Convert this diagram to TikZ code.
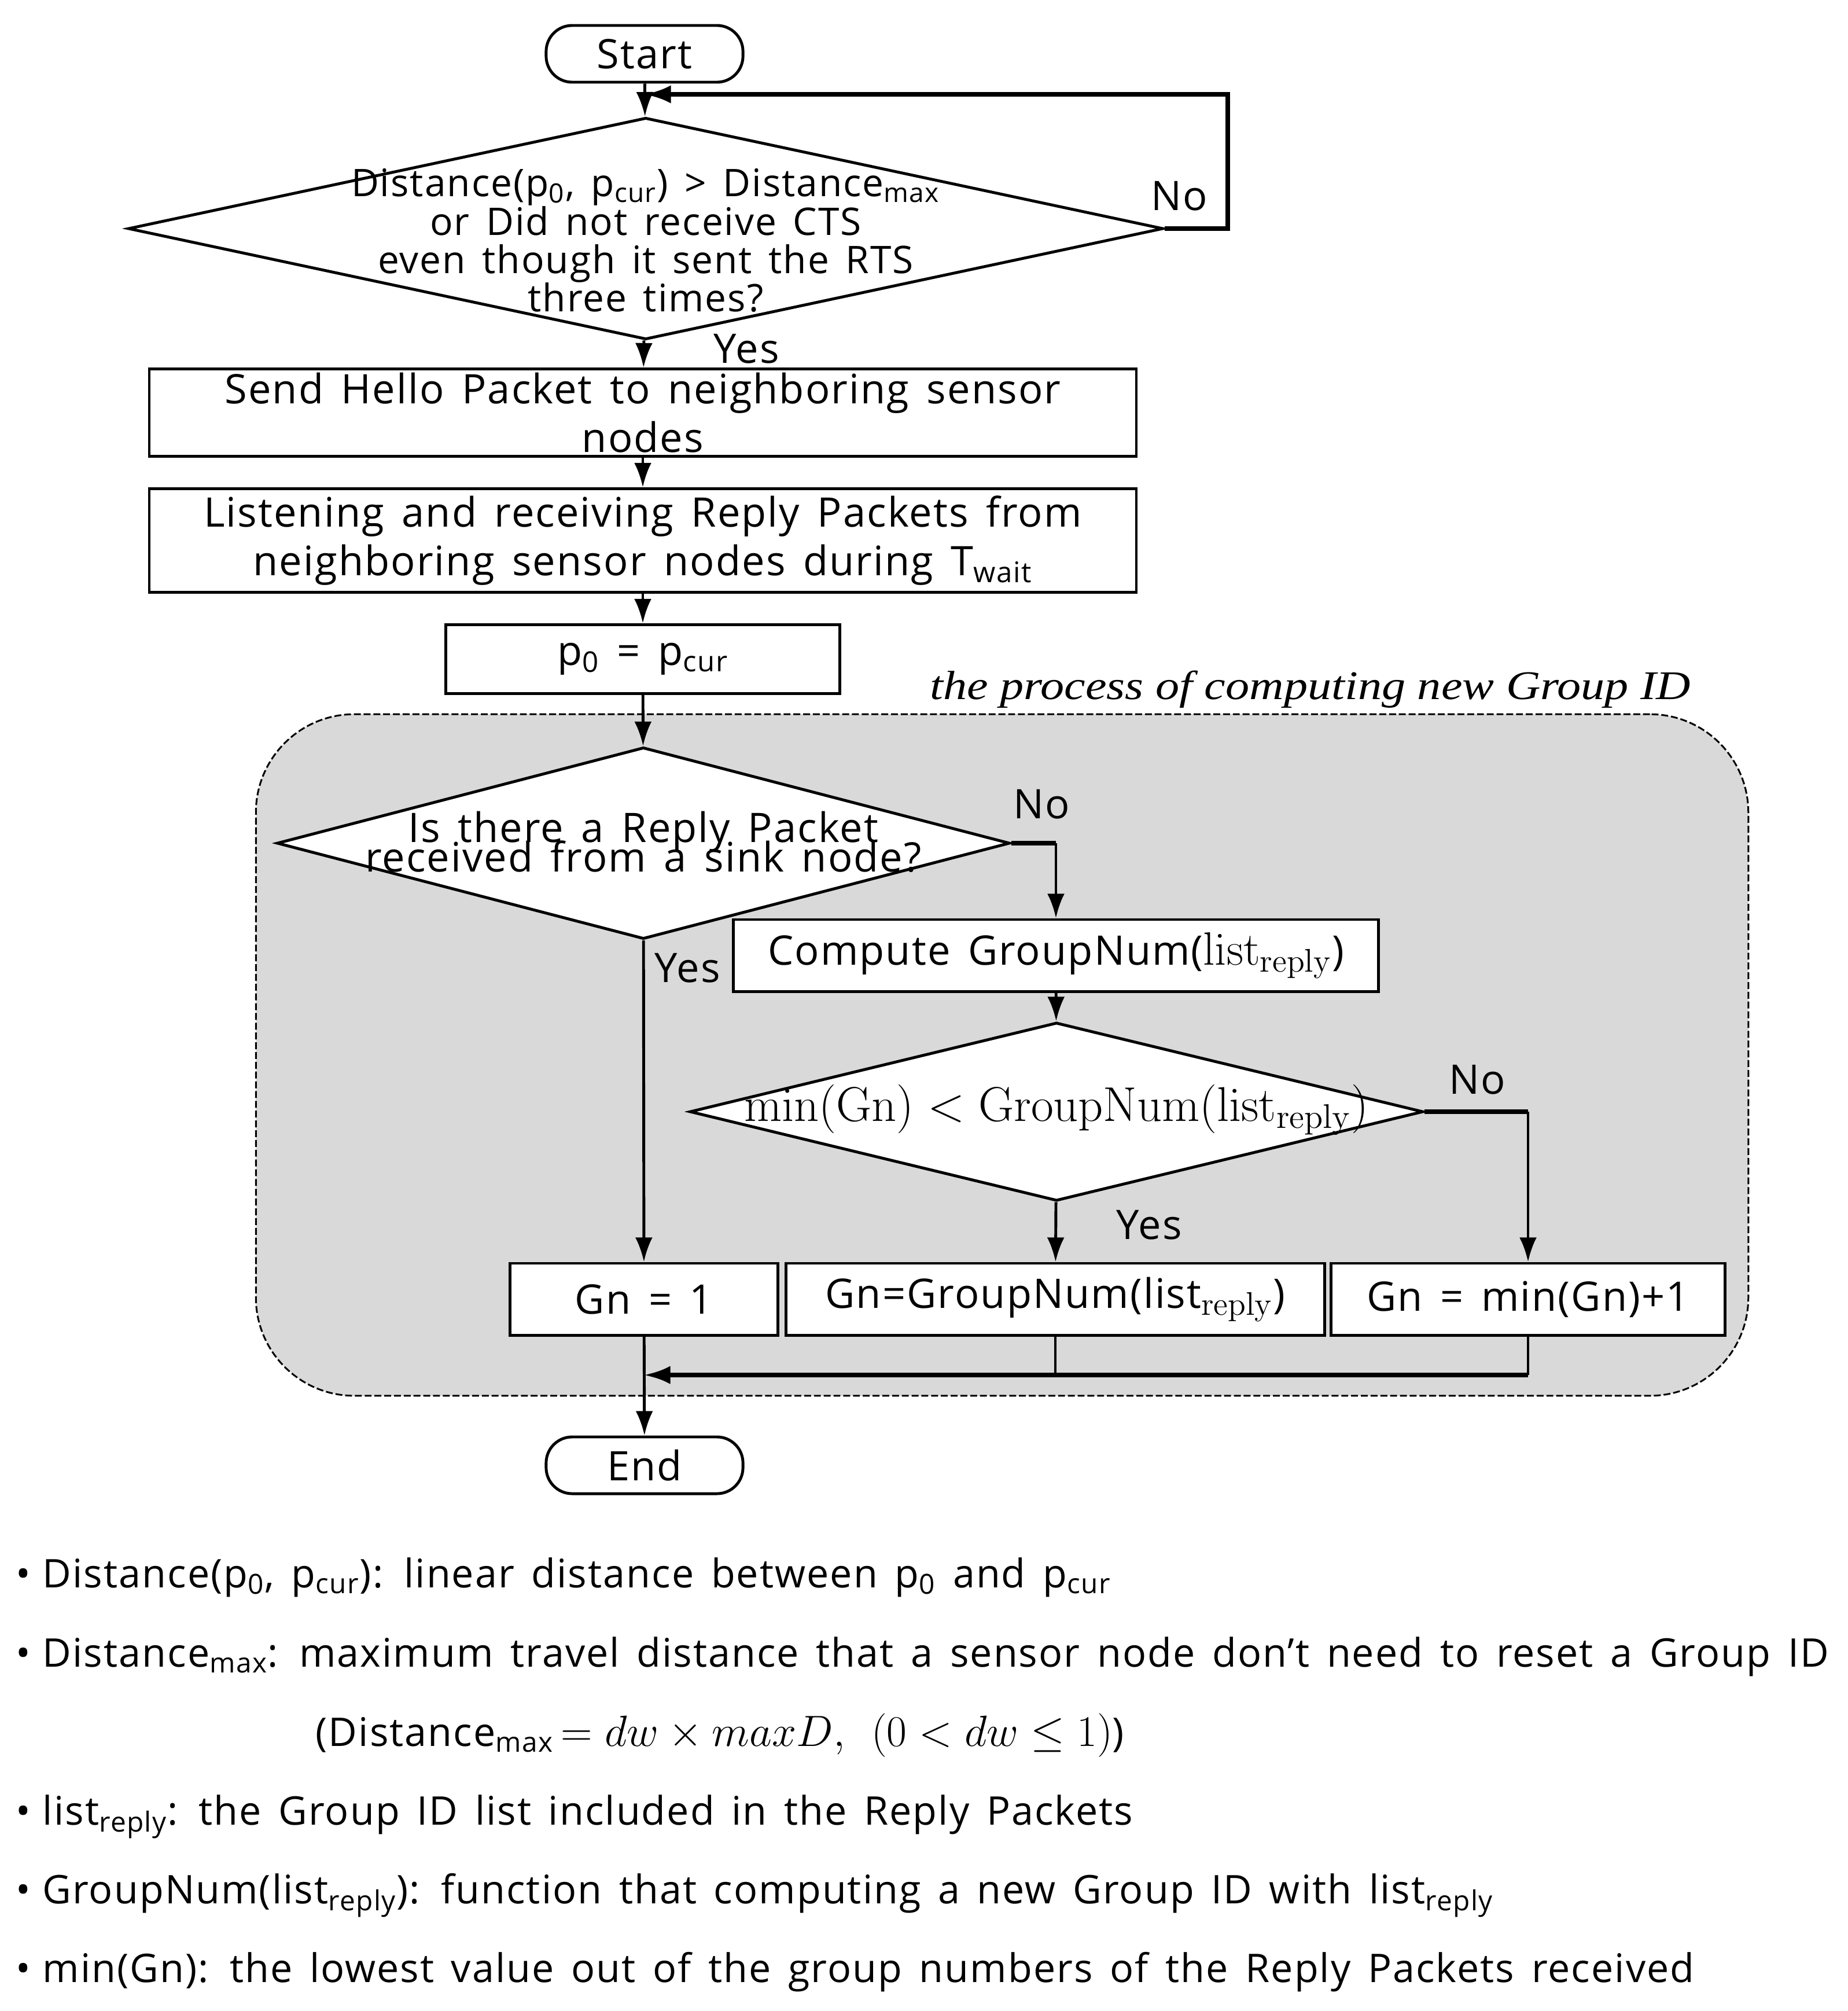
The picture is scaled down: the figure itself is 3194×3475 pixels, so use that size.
\RequirePackage{fix-cm}
\documentclass[tikz,border=0pt]{standalone}
\usepackage[no-math]{fontspec}
\setmainfont{Open Sans}[LetterSpace=3, WordSpace=1.5]
\newfontfamily\captionfont{Liberation Serif}[FakeStretch=1.17]
\usetikzlibrary{shapes,arrows.meta}

\definecolor{groupgray}{RGB}{217,217,217}
\newcommand{\zerosize}[2]{\smash{\raisebox{#1}{\makebox[0pt]{\parbox[c]{20cm}{\centering\lineskiplimit=-100pt #2}}}}}
\newcommand{\listreply}{\mathrm{list}_{\mathrm{reply}}}
\newcommand{\bigmath}[1]{{\fontsize{23}{23}\selectfont#1}}

\begin{document}
\begin{tikzpicture}[x=0.01cm, y=-0.01cm, font=\fontsize{20}{24}\selectfont]
	\tikzstyle {link} = [line width=1.4pt]
	\tikzstyle {flow} = [link, -{Latex[length=12pt,width=8.5pt]}]
	\tikzstyle {heavy} = [line width=2.2pt]
	\tikzstyle {heavyflow} = [heavy, -{Latex[length=13pt,width=9pt]}]
	\tikzstyle {terminal} = [draw, line width=1.4pt, rectangle, rounded corners=0.45cm, minimum width=3.4cm, minimum height=0.98cm, inner sep=0pt]
	\tikzstyle {procbox} = [draw, line width=1.4pt, fill=white, rectangle, inner sep=0pt, align=center]
	\tikzstyle {decision} = [draw, line width=1.4pt, fill=white, diamond, inner sep=0pt]
	\tikzstyle {answer} = [inner sep=0pt]
	\tikzstyle {note} = [anchor=base west, inner sep=0pt, font=\fontsize{19.4}{24}\selectfont]

	\useasboundingbox (0,0) rectangle (3194,3475);

	% grey area
	\node[draw, fill=groupgray, line width=0.85pt, dash pattern=on 3.4pt off 1.4pt, rounded corners=1.7cm, minimum width=25.78cm, minimum height=11.77cm] (grouparea) at (1732,1823) {};
	\node[anchor=base east, inner sep=0pt, font=\fontsize{20}{24}\captionfont\itshape] (grouplabel) at (2923,1208) {the process of computing new Group ID};

	% nodes
	\node[terminal] (start) at (1114,93) {Start};
	\node[decision, minimum width=17.88cm, minimum height=3.83cm, font=\fontsize{18.7}{18.8}\selectfont] (dist) at (1116,395)
		{\zerosize{-10.5pt}{Distance(p\textsubscript{0}, p\textsubscript{cur}) > Distance\textsubscript{max}\\ or Did not receive CTS\\ even though it sent the RTS\\ three times?}};
	\node[procbox, minimum width=17.05cm, minimum height=1.51cm] (hello) at (1111,713) {Send Hello Packet to neighboring sensor\\ nodes};
	\node[procbox, minimum width=17.05cm, minimum height=1.79cm] (listen) at (1111,934) {Listening and receiving Reply Packets from\\ neighboring sensor nodes during T\textsubscript{wait}};
	\node[procbox, minimum width=6.81cm, minimum height=1.19cm] (pzero) at (1111,1139) {p\textsubscript{0} = p\textsubscript{cur}};

	\node[decision, minimum width=12.66cm, minimum height=3.31cm, font=\fontsize{20}{14.5}\selectfont] (sink) at (1112,1457)
		{\zerosize{-4.3pt}{Is there a Reply Packet\\ received from a sink node?}};
	\node[procbox, minimum width=11.15cm, minimum height=1.24cm] (compute) at (1825,1651) {Compute GroupNum(\bigmath{$\listreply$})};
	\node[decision, minimum width=12.67cm, minimum height=3.08cm, font=\fontsize{24}{24}\selectfont] (mincheck) at (1826,1921)
		{\zerosize{-5pt}{$\mathrm{min(Gn)} < \mathrm{GroupNum}\bigl(\listreply\bigr)$}};

	\node[procbox, minimum width=4.63cm, minimum height=1.24cm] (gnone) at (1113,2245) {Gn = 1};
	\node[procbox, minimum width=9.31cm, minimum height=1.24cm] (gngroup) at (1824,2245) {Gn=GroupNum(list\bigmath{$_{\mathrm{reply}}$})};
	\node[procbox, minimum width=6.80cm, minimum height=1.24cm] (gnmin) at (2641,2245) {Gn = min(Gn)+1};
	\node[terminal] (end) at (1114,2532) {End};

	% yes / no
	\node[answer] (nodist) at (2038,339) {No};
	\node[answer] (yesdist) at (1290,603) {Yes};
	\node[answer] (nosink) at (1800,1390) {No};
	\node[answer] (yessink) at (1188,1673) {Yes};
	\node[answer] (nomin) at (2553,1866) {No};
	\node[answer] (yesmin) at (1986,2117) {Yes};

	% connectors
	\coordinate (loopcorner) at (2122,163);
	\coordinate (loopin) at (start.south |- loopcorner);
	\draw[flow] (start) -- (dist);
	\draw[heavyflow] (dist.east) -| (loopcorner) -- (loopin);
	\draw[flow] (dist) -- (hello);
	\draw[flow] (hello) -- (listen);
	\draw[flow] (listen) -- (pzero);
	\draw[flow] (pzero) -- (sink);

	\coordinate (sinkturn) at (compute.north |- sink.east);
	\draw[heavy] (sink.east) -- (sinkturn);
	\draw[flow] (sinkturn) -- (compute);
	\draw[flow] (sink) -- (gnone);
	\draw[flow] (compute) -- (mincheck);
	\draw[flow] (mincheck) -- (gngroup);

	\coordinate (minturn) at (gnmin.north |- mincheck.east);
	\draw[heavy] (mincheck.east) -- (minturn);
	\draw[flow] (minturn) -- (gnmin);

	\coordinate (mergeright) at (2641,2376);
	\coordinate (mergeleft) at (gnone.south |- mergeright);
	\draw[link] (gnmin) -- (mergeright);
	\draw[link] (gngroup) -- (gngroup.south |- mergeright);
	\draw[heavyflow] (mergeright) -- (mergeleft);
	\draw[flow] (gnone) -- (end);

	% definitions below
	\node[note] (defdist) at (27,2743) {•\hspace{0.3em}Distance(p\textsubscript{0}, p\textsubscript{cur}): linear distance between p\textsubscript{0} and p\textsubscript{cur}};
	\node[note] (defmax) at (27,2880) {•\hspace{0.3em}Distance\textsubscript{max}: maximum travel distance that a sensor node don’t need to reset a Group ID};
	\node[note] (defformula) at (545,3017) {(Distance\textsubscript{max}{\fontsize{21.5}{24}\selectfont$\,= dw \times maxD,\ (0 < dw \leq 1)$})};
	\node[note] (deflist) at (27,3153) {•\hspace{0.3em}list\textsubscript{reply}: the Group ID list included in the Reply Packets};
	\node[note] (defgroupnum) at (27,3289) {•\hspace{0.3em}GroupNum(list\textsubscript{reply}): function that computing a new Group ID with list\textsubscript{reply}};
	\node[note] (defmin) at (27,3425) {•\hspace{0.3em}min(Gn): the lowest value out of the group numbers of the Reply Packets received};
\end{tikzpicture}
\end{document}
